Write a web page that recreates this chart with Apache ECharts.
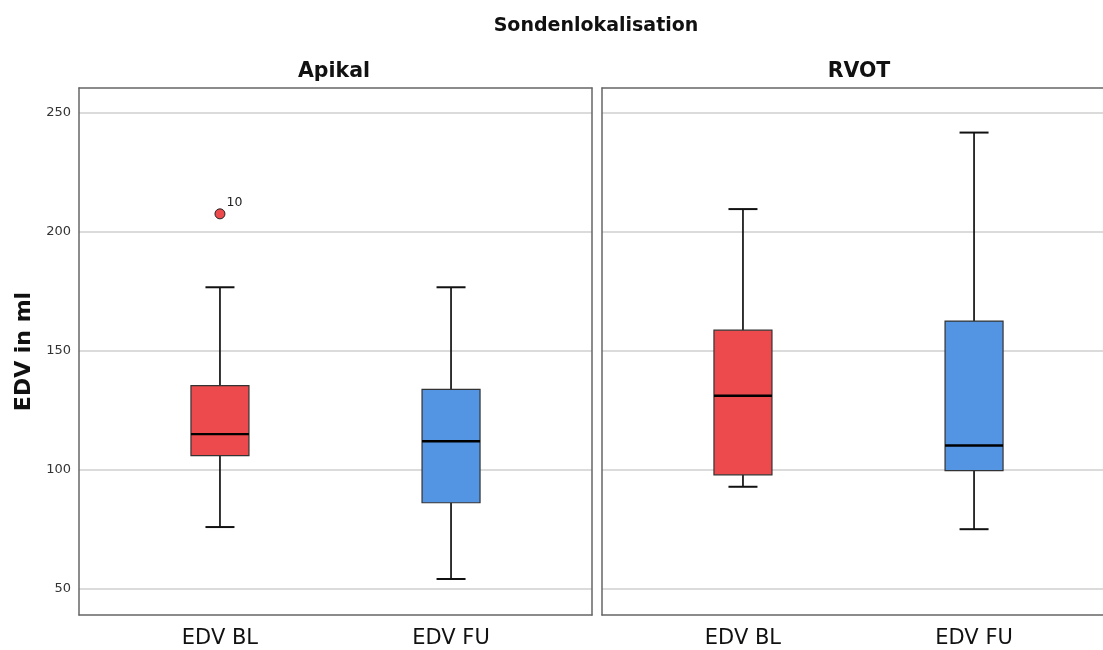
<!DOCTYPE html>
<html>
<head>
<meta charset="utf-8">
<script src="https://cdn.jsdelivr.net/npm/echarts@6/dist/echarts.min.js"></script>
<style>html,body{margin:0;padding:0;background:#fff}#c{width:1103px;height:650px}</style>
</head>
<body>
<div id="c"></div>
<script>
// ---- data ----
const mainTitle = 'Sondenlokalisation';
const panels = ['Apikal', 'RVOT'];
const categories = ['EDV BL', 'EDV FU'];
const yTicks = [50, 100, 150, 200, 250];
// [min, Q1, median, Q3, max]
const apikalBL = [76, 106, 115, 135.3, 176.6];
const apikalFU = [54.2, 86.2, 112, 133.8, 176.6];
const rvotBL = [92.9, 97.9, 131.1, 158.6, 209.4];
const rvotFU = [75.1, 99.7, 110.2, 162.4, 241.5];
// outliers: [categoryIndex, value, label]
const apikalOutliers = [[0, 207.4, '10']];
const rvotOutliers = [];

const colors = ['#EC4A4D', '#5394E3'];
const yName = 'EDV in ml';

const panelData = [[apikalBL, apikalFU], [rvotBL, rvotFU]];
const panelOutliers = [apikalOutliers, rvotOutliers];

const chart = echarts.init(document.getElementById('c'), null, {renderer: 'canvas'});
const font = '"DejaVu Sans", sans-serif';
const frame = {color: '#666', width: 1.5};

function renderBox(params, api) {
  const x = api.value(0);
  const vmin = api.value(1), q1 = api.value(2), med = api.value(3), q3 = api.value(4), vmax = api.value(5);
  const unit = api.size([1, 0])[0];
  const bw = unit * 0.251;
  const cw = bw / 2;
  const pMin = api.coord([x, vmin]);
  const pQ1 = api.coord([x, q1]);
  const pMed = api.coord([x, med]);
  const pQ3 = api.coord([x, q3]);
  const pMax = api.coord([x, vmax]);
  const cx = pMin[0];
  const color = api.visual('color');
  const lineStyle = {stroke: '#111', lineWidth: 1.7};
  return {
    type: 'group',
    children: [
      {type: 'line', shape: {x1: cx, y1: pQ3[1], x2: cx, y2: pMax[1]}, style: lineStyle},
      {type: 'line', shape: {x1: cx, y1: pQ1[1], x2: cx, y2: pMin[1]}, style: lineStyle},
      {type: 'line', shape: {x1: cx - cw / 2, y1: pMax[1], x2: cx + cw / 2, y2: pMax[1]}, style: {stroke: '#111', lineWidth: 2}},
      {type: 'line', shape: {x1: cx - cw / 2, y1: pMin[1], x2: cx + cw / 2, y2: pMin[1]}, style: {stroke: '#111', lineWidth: 2}},
      {type: 'rect', shape: {x: cx - bw / 2, y: pQ3[1], width: bw, height: pQ1[1] - pQ3[1]},
        style: {fill: color, stroke: '#333', lineWidth: 1.2}},
      {type: 'line', shape: {x1: cx - bw / 2, y1: pMed[1], x2: cx + bw / 2, y2: pMed[1]}, style: {stroke: '#000', lineWidth: 2.4}}
    ]
  };
}

const grids = [], xAxes = [], yAxes = [], series = [], titles = [];
const gridLefts = [79, 602];
const gridWidths = [513, 501];
const xMax = [2.61, 2.558];
const titleCenters = [329, 854];
titles.push({text: mainTitle, left: 591, top: 12, textAlign: 'center',
  textStyle: {fontFamily: font, fontSize: 19, fontWeight: 'bold', color: '#111'}});

panels.forEach((p, i) => {
  grids.push({left: gridLefts[i], top: 88, width: gridWidths[i], height: 527, show: false, containLabel: false});
  xAxes.push({type: 'value', gridIndex: i, min: 0.39, max: xMax[i], position: 'bottom',
    axisLine: {show: true, onZero: false, lineStyle: frame}, axisTick: {show: false}, splitLine: {show: false},
    axisLabel: {customValues: [1, 2], formatter: v => categories[Math.round(v) - 1] || '',
      fontFamily: font, fontSize: 21, color: '#111', margin: 13}});
  // top frame line
  xAxes.push({type: 'value', gridIndex: i, min: 0.39, max: xMax[i], position: 'top',
    axisLine: {show: true, onZero: false, lineStyle: frame}, axisTick: {show: false},
    axisLabel: {show: false}, splitLine: {show: false}});
  yAxes.push({type: 'value', gridIndex: i, min: 39.1, max: 260.2,
    axisLine: {show: true, onZero: false, lineStyle: frame},
    axisTick: {show: false, customValues: yTicks},
    axisLabel: {show: i === 0, customValues: yTicks, fontFamily: font, fontSize: 13, color: '#333', margin: 8},
    splitLine: {show: true, lineStyle: {color: '#cfcfcf', width: 1.5}},
    name: i === 0 ? yName : '', nameLocation: 'middle', nameGap: 44,
    nameTextStyle: {fontFamily: font, fontSize: 22, fontWeight: 'bold', color: '#111'}});
  if (i === 0) {
    // right frame line of the first panel
    yAxes.push({type: 'value', gridIndex: i, min: 39.1, max: 260.2, position: 'right',
      axisLine: {show: true, onZero: false, lineStyle: frame}, axisTick: {show: false},
      axisLabel: {show: false}, splitLine: {show: false}});
  }
  titles.push({text: p, left: titleCenters[i], top: 56, textAlign: 'center',
    textStyle: {fontFamily: font, fontSize: 20.5, fontWeight: 'bold', color: '#111'}});
  const xi = i * 2;
  const yi = i === 0 ? 0 : 2;
  series.push({type: 'custom', xAxisIndex: xi, yAxisIndex: yi, renderItem: renderBox,
    data: panelData[i].map((d, k) => ({value: [k + 1].concat(d), itemStyle: {color: colors[k]}})),
    z: 5});
  series.push({type: 'scatter', xAxisIndex: xi, yAxisIndex: yi, symbol: 'circle', symbolSize: 10,
    data: panelOutliers[i].map(o => ({value: [o[0] + 1, o[1]], name: o[2], itemStyle: {color: colors[o[0]]}})),
    itemStyle: {borderColor: '#222', borderWidth: 1, opacity: 1},
    label: {show: true, formatter: '{b}', position: [12, -12], align: 'left', verticalAlign: 'top',
      fontFamily: font, fontSize: 12.5, color: '#222'},
    z: 6});
});

chart.setOption({
  animation: false,
  title: titles,
  grid: grids,
  xAxis: xAxes,
  yAxis: yAxes,
  series: series
});
</script>
</body>
</html>
